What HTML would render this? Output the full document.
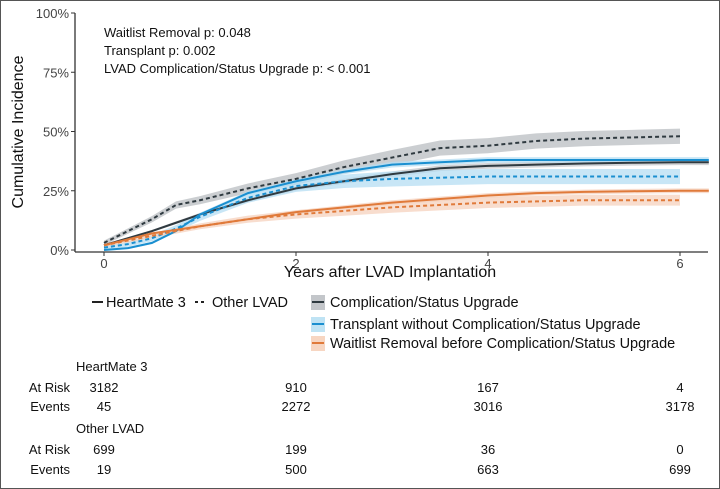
<!DOCTYPE html>
<html><head><meta charset="utf-8"><style>
body{margin:0;background:#fff;}
svg{display:block;font-family:"Liberation Sans",sans-serif;}
</style></head><body>
<svg id="c" width="720" height="489" viewBox="0 0 720 489">
<rect x="0.5" y="0.5" width="719" height="488" fill="#fff" stroke="#555" stroke-width="1"/>
<g id="bands"></g><g id="lines"></g><g id="axes"></g>
<g font-size="13" fill="#111">
<text x="104" y="37">Waitlist Removal p: 0.048</text>
<text x="104" y="55">Transplant p: 0.002</text>
<text x="104" y="73">LVAD Complication/Status Upgrade p: &lt; 0.001</text>
</g>
<text transform="translate(23,132) rotate(-90)" text-anchor="middle" font-size="16" fill="#111">Cumulative Incidence</text>
<text x="390" y="277" text-anchor="middle" font-size="16" fill="#111">Years after LVAD Implantation</text>
<g font-size="14.5" fill="#111">
<line x1="92" y1="302" x2="103" y2="302" stroke="#222" stroke-width="2"/>
<text x="106" y="307">HeartMate 3</text>
<line x1="195" y1="302" x2="207" y2="302" stroke="#222" stroke-width="2" stroke-dasharray="3,3"/>
<text x="212" y="307">Other LVAD</text>
<rect x="311" y="295" width="14" height="15" fill="#c3c6ca"/>
<line x1="312" y1="302" x2="324" y2="302" stroke="#2f3a40" stroke-width="2"/>
<text x="330" y="307">Complication/Status Upgrade</text>
<rect x="311" y="317" width="14" height="15" fill="#bfe3f4"/>
<line x1="312" y1="324" x2="324" y2="324" stroke="#1a8fd0" stroke-width="2"/>
<text x="330" y="329">Transplant without Complication/Status Upgrade</text>
<rect x="311" y="336" width="14" height="15" fill="#f7d6c2"/>
<line x1="312" y1="343" x2="324" y2="343" stroke="#e07a3a" stroke-width="2"/>
<text x="330" y="348">Waitlist Removal before Complication/Status Upgrade</text>
</g>
<g id="table" font-size="13" fill="#111"></g>
</svg>
<script>
const NS="http://www.w3.org/2000/svg";
const yrs=[0,0.25,0.5,0.75,1,1.5,2,2.5,3,3.5,4,4.5,5,5.5,6];
const hm3Comp=[2,5,8,11.5,15,21,26,29,32,34.5,35.5,36,36.5,36.8,37];
const othComp=[3,8,13,19,21,26,30,35,39,43,44,46,47,47.5,48];
const hm3Tx=[0,0.8,3,8,15,24,29,33,36,37,38,38,38,38,38];
const othTx=[1,2.5,5,9,14,22,27,29,30,30.5,31,31,31,31,31];
const hm3Wl=[2,4.5,7,8.5,10,13,16,18,20,21.5,23,24,24.5,24.8,25];
const othWl=[2,4,6,8,10,13,15,16.5,18,19,20,20.5,21,21,21];
const hm3End=6.3;
const xTicks=[0,2,4,6];
const yTicks=[0,25,50,75,100];
const riskHm3=[3182,910,167,4];
const evHm3=[45,2272,3016,3178];
const riskOth=[699,199,36,0];
const evOth=[19,500,663,699];
const X=t=>104+t*96, Y=v=>250-v*2.37;
function el(tag,attrs,parent,name){const e=document.createElementNS(NS,tag);for(const k in attrs)e.setAttribute(k,attrs[k]);


parent.appendChild(e);return e;}
const series=[
 {v:othComp,c:"#2f3a40",f:"#b9bdc1",w:3.2,d:true,end:6,n:"other-complication"},
 {v:hm3Comp,c:"#2f3a40",f:"#c3c6ca",w:1.2,d:false,end:hm3End,n:"heartmate3-complication"},
 {v:othTx,c:"#1a8fd0",f:"#b5def3",w:3.2,d:true,end:6,n:"other-transplant"},
 {v:hm3Tx,c:"#1a8fd0",f:"#b5def3",w:1.2,d:false,end:hm3End,n:"heartmate3-transplant"},
 {v:othWl,c:"#e07a3a",f:"#f5d2bd",w:2.3,d:true,end:6,n:"other-waitlist"},
 {v:hm3Wl,c:"#e07a3a",f:"#f5d2bd",w:1.0,d:false,end:hm3End,n:"heartmate3-waitlist"}];
const bands=document.getElementById('bands'),lines=document.getElementById('lines');
series.forEach(s=>{
 const ts=yrs.slice(), vs=s.v.slice();
 if(s.end>6){ts.push(s.end);vs.push(s.v[s.v.length-1]);}
 const w=i=>s.w*(0.3+0.7*Math.min(1,ts[i]/3));
 const up=vs.map((v,i)=>X(ts[i])+","+Y(v+w(i)));
 const dn=vs.map((v,i)=>X(ts[i])+","+Y(Math.max(0,v-w(i)))).reverse();
 el('polygon',{points:up.concat(dn).join(" "),fill:s.f,opacity:0.75},bands,"band-"+s.n);
 const a={points:vs.map((v,i)=>X(ts[i])+","+Y(v)).join(" "),fill:"none",stroke:s.c,"stroke-width":2};
 if(s.d)a["stroke-dasharray"]="4,3";
 el('polyline',a,lines,"line-"+s.n);
});
const ax=document.getElementById('axes');
el('line',{x1:75,y1:13,x2:75,y2:252,stroke:"#333","stroke-width":1.3},ax,"y-axis-line");
el('line',{x1:75,y1:252,x2:708,y2:252,stroke:"#333","stroke-width":1.3},ax,"x-axis-line");
yTicks.forEach(v=>{el('line',{x1:71,x2:75,y1:Y(v),y2:Y(v),stroke:"#333"},ax,"y-tick");
 const t=el('text',{x:69,y:Y(v)+5,"text-anchor":"end","font-size":13,fill:"#444"},ax,"y-tick-label");t.textContent=v+"%";});
xTicks.forEach(v=>{el('line',{x1:X(v),x2:X(v),y1:252,y2:256,stroke:"#333"},ax,"x-tick");
 const t=el('text',{x:X(v),y:268,"text-anchor":"middle","font-size":13,fill:"#444"},ax,"x-tick-label");t.textContent=v;});
const tb=document.getElementById('table');
function txt(x,y,s,anchor,name){const t=el('text',{x:x,y:y,"text-anchor":anchor},tb,name);t.textContent=s;}
txt(76,371,"HeartMate 3","start","table-heartmate3-title");
txt(70,392,"At Risk","end","table-atrisk-label");
txt(70,411,"Events","end","table-events-label");
txt(76,433,"Other LVAD","start","table-other-title");
txt(70,454,"At Risk","end","table-atrisk-label");
txt(70,474,"Events","end","table-events-label");
xTicks.forEach((t,i)=>{
 txt(X(t),392,riskHm3[i],"middle","hm3-at-risk-value");
 txt(X(t),411,evHm3[i],"middle","hm3-events-value");
 txt(X(t),454,riskOth[i],"middle","other-at-risk-value");
 txt(X(t),474,evOth[i],"middle","other-events-value");
});
</script>
</body></html>
